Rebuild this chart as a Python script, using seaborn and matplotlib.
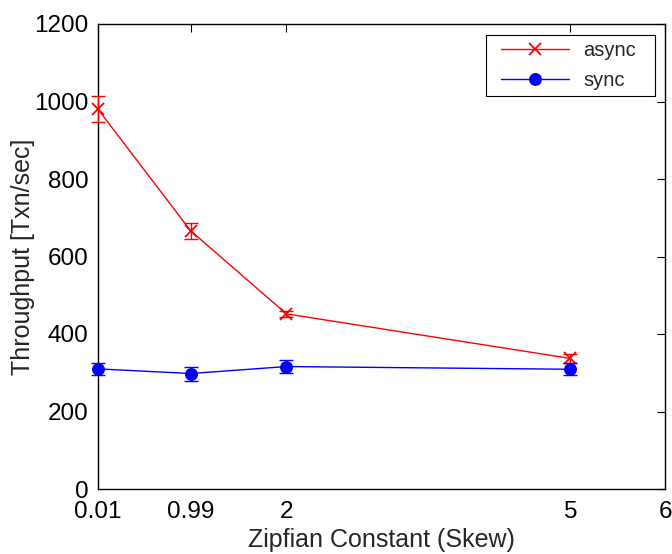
import matplotlib
matplotlib.use("Agg")
import matplotlib.pyplot as plt
from matplotlib.patches import Rectangle
import numpy as np
import pandas as pd
import seaborn as sns

# Zipfian skew settings and measured throughput (mean and error half-width)
skew = [0.01, 0.99, 2, 5]
async_tput = [980, 666, 452, 337]
async_err = [33, 21, 7, 12]
sync_tput = [310, 298, 316, 309]
sync_err = [15, 18, 17, 16]

x_ticks = [0.01, 0.99, 2, 5, 6]
x_ticklabels = ["0.01", "0.99", "2", "5", "6"]
y_ticks = [0, 200, 400, 600, 800, 1000, 1200]

sns.set_style("white")
plt.rcParams["font.family"] = ["Liberation Sans", "DejaVu Sans"]

W, H = 672, 554
fig = plt.figure(figsize=(W / 100, H / 100), dpi=100)
ax = fig.add_axes([98 / W, 1 - 489 / H, (665 - 98) / W, (489 - 24) / H])

series = [
    ("async", async_tput, async_err, "#ff0000", "x", 9),
    ("sync", sync_tput, sync_err, "#0000ff", "o", 8),
]
for name, vals, errs, c, mk, ms in series:
    sns.lineplot(x=skew, y=vals, color=c, marker=mk, markersize=ms,
                 markeredgewidth=1.3, markeredgecolor=c, linewidth=1.0,
                 label=name, ax=ax, clip_on=False, zorder=3)
    ax.errorbar(skew, vals, yerr=errs, fmt="none", ecolor=c,
                elinewidth=1.0, capsize=5, capthick=1.0,
                clip_on=False, zorder=3)

ax.set_xlim(0.01, 6)
ax.set_ylim(0, 1200)
ax.set_xticks(x_ticks)
ax.set_xticklabels(x_ticklabels)
ax.set_yticks(y_ticks)
ax.tick_params(axis="both", which="both", direction="in", length=6,
               width=0.8, top=True, right=True, labelsize=17.5,
               colors="black")
ax.tick_params(axis="x", pad=9)
ax.tick_params(axis="y", pad=7)
for s in ax.spines.values():
    s.set_color("black")
    s.set_linewidth(1.0)

ax.set_xlabel("Zipfian Constant (Skew)", fontsize=18, labelpad=3.5)
ax.set_ylabel("Throughput [Txn/sec]", fontsize=18, labelpad=-1)

# Legend without its own frame; a boxed frame with wider side margins
# is drawn around it afterwards.
leg = ax.legend(loc="upper left", bbox_to_anchor=(501 / W, 1 - 41 / H),
                bbox_transform=fig.transFigure, fontsize=14.5,
                frameon=False, borderpad=0, borderaxespad=0,
                handlelength=3.4, handletextpad=0.7, labelspacing=0.55)
leg.set_zorder(6)

fig.canvas.draw()
bb = leg.get_window_extent()
inv = ax.transAxes.inverted()
(x0, y0) = inv.transform((bb.x0 - 15, bb.y0 - 6))
(x1, y1) = inv.transform((bb.x1 + 19, bb.y1 + 6))
ax.add_patch(Rectangle((x0, y0), x1 - x0, y1 - y0, transform=ax.transAxes,
                       facecolor="white", edgecolor="black", linewidth=0.8,
                       zorder=5, clip_on=False))

fig.savefig("out.png", dpi=100)
